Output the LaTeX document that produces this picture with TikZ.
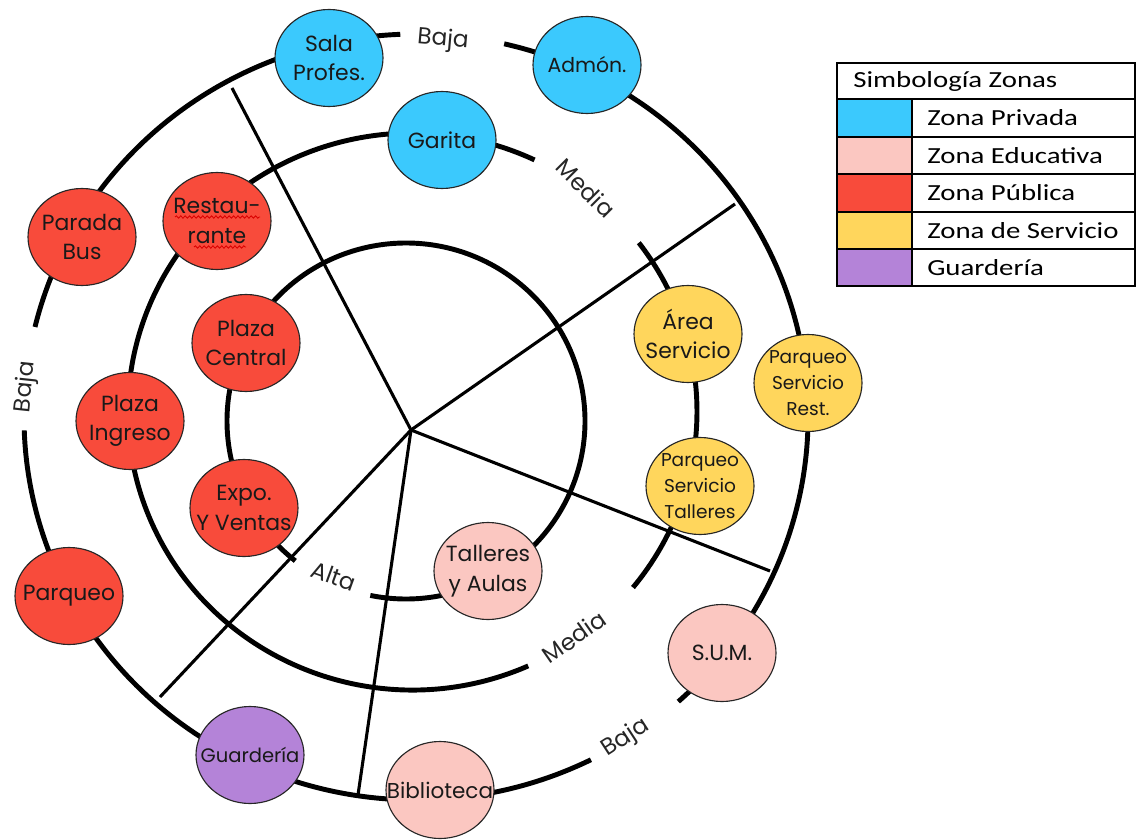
\documentclass[tikz,border=0pt]{standalone}
\usepackage{fontspec}
\setmainfont{Poppins}
\newfontfamily\legendfont[FakeStretch=1.25]{Carlito}
\usetikzlibrary{shapes.geometric, decorations.pathmorphing}

\definecolor{cPrivada}{RGB}{59,201,253}
\definecolor{cEducativa}{RGB}{251,199,193}
\definecolor{cPublica}{RGB}{248,75,59}
\definecolor{cServicio}{RGB}{255,214,92}
\definecolor{cGuarderia}{RGB}{180,131,216}

\begin{document}
\begin{tikzpicture}[x=0.25mm, y=-0.25mm,
    ring/.style={line width=3.5pt},
    spoke/.style={line width=2.2pt},
    zone/.style={ellipse, draw=black!85, line width=0.8pt, minimum width=27mm,
      minimum height=24.25mm, inner sep=-12mm, align=center, text=black!90,
      font=\fontsize{15.6}{21}\selectfont},
    privada/.style={zone, fill=cPrivada},
    educativa/.style={zone, fill=cEducativa},
    publica/.style={zone, fill=cPublica},
    servicio/.style={zone, fill=cServicio},
    guarderia/.style={zone, fill=cGuarderia},
    small/.style={font=\fontsize{13.2}{18.5}\selectfont},
    lvl/.style={font=\fontsize{16.5}{20}\selectfont, text=black!85, inner sep=1pt},
    legtxt/.style={font=\legendfont\fontsize{16.4}{20}\selectfont, anchor=west, inner sep=0pt},
    legline/.style={line width=1.4pt},
    squig/.style={red!85!black, line width=0.6pt, decorate,
      decoration={snake, amplitude=0.3mm, segment length=1.1mm}}]
  \useasboundingbox (0,0) rectangle (1136,840);
  % centres
  \coordinate (oc) at (416,417);
  \coordinate (mc) at (412.5,411.5);
  \coordinate (ic) at (406,421);
  \coordinate (hub) at (411,430);
  % Outer ring
  \draw[ring] (oc) ++(-77:392 and 383) arc[start angle=-77, end angle=48, x radius=392, y radius=383];
  \draw[ring] (oc) ++(63.5:392 and 383) arc[start angle=63.5, end angle=178, x radius=392, y radius=383];
  \draw[ring] (oc) ++(193.6:392 and 383) arc[start angle=193.6, end angle=267.7, x radius=392, y radius=383];
  % Middle ring
  \draw[ring] (mc) ++(-37.3:284.5 and 278.5) arc[start angle=-37.3, end angle=39.2, x radius=284.5, y radius=278.5];
  \draw[ring] (mc) ++(66:284.5 and 278.5) arc[start angle=66, end angle=295.4, x radius=284.5, y radius=278.5];
  % Inner ring
  \draw[ring] (ic) ++(128.2:179 and 178) arc[start angle=128.2, end angle=461.5, x radius=179, y radius=178];
  % Spokes
  \coordinate (sNW) at (232,88);
  \coordinate (sNE) at (735,204);
  \coordinate (sSE) at (770,571);
  \coordinate (sS) at (358,795);
  \coordinate (sSW) at (160,697);
  \draw[spoke] (hub) -- (sNW);
  \draw[spoke] (hub) -- (sNE);
  \draw[spoke] (hub) -- (sSE);
  \draw[spoke] (hub) -- (sS);
  \draw[spoke] (hub) -- (sSW);
  % Zones
  \node[privada] (sala) at (329,58) {Sala\\Profes.};
  \node[privada, font=\fontsize{14.5}{20}\selectfont] (admon) at (587,65) {Admón.};
  \node[privada] (garita) at (442,140) {Garita};
  \node[publica] (parada) at (82,237) {Parada\\Bus};
  \node[publica] (rest) at (217,221) {Restau-\\rante};
  \node[publica] (pcentral) at (246,343) {Plaza\\Central};
  \node[publica] (pingreso) at (130,421) {Plaza\\Ingreso};
  \node[publica] (expo) at (244,508) {Expo.\\Y Ventas};
  \node[publica] (parqueo) at (69,596) {Parqueo};
  \node[guarderia, font=\fontsize{13.9}{20}\selectfont] (guard) at (250,755) {Guardería};
  \node[educativa, font=\fontsize{15.3}{20}\selectfont] (biblio) at (440,790) {Biblioteca};
  \node[educativa] (talleres) at (488,571) {Talleres\\y Aulas};
  \node[educativa] (sum) at (722,653) {S.U.M.};
  \node[servicio] (area) at (688,334) {Área\\Servicio};
  \node[servicio, small] (pst) at (700,486) {Parqueo\\Servicio\\Talleres};
  \node[servicio, small] (psr) at (808,383) {Parqueo\\Servicio\\Rest.};
  % spelling marks
  \draw[squig] (175,217) -- (260,217);
  \draw[squig] (194,247) -- (246,247);
  % Levels
  \node[lvl, rotate=-5] (bajaT) at (443,40) {Baja};
  \node[lvl, rotate=84] (bajaL) at (26,387) {Baja};
  \node[lvl, rotate=33] (bajaB) at (626,738) {Baja};
  \node[lvl, rotate=-45] (mediaT) at (586,188) {Media};
  \node[lvl, rotate=35] (mediaB) at (574,637) {Media};
  \node[lvl, rotate=-20] (alta) at (334,576) {Alta};
  % Legend
  \foreach \c/\t/\ya/\yb [count=\i] in {cPrivada/Zona Privada/99/137,
      cEducativa/Zona Educativa/137/174, cPublica/Zona Pública/174/212,
      cServicio/Zona de Servicio/212/249, cGuarderia/Guardería/249/286} {
    \fill[\c] (837,\ya) rectangle (912,\yb);
    \node[legtxt] (leg\i) at (927,{(\ya+\yb)/2}) {\t};
  }
  \node[legtxt] (simb) at (853,81) {Simbología Zonas};
  \draw[legline] (837,63) rectangle (1135,286);
  \foreach \y in {99,137,174,212,249}
    \draw[legline] (837,\y) -- (1135,\y);
  \draw[legline] (912,99) -- (912,286);
\end{tikzpicture}
\end{document}
